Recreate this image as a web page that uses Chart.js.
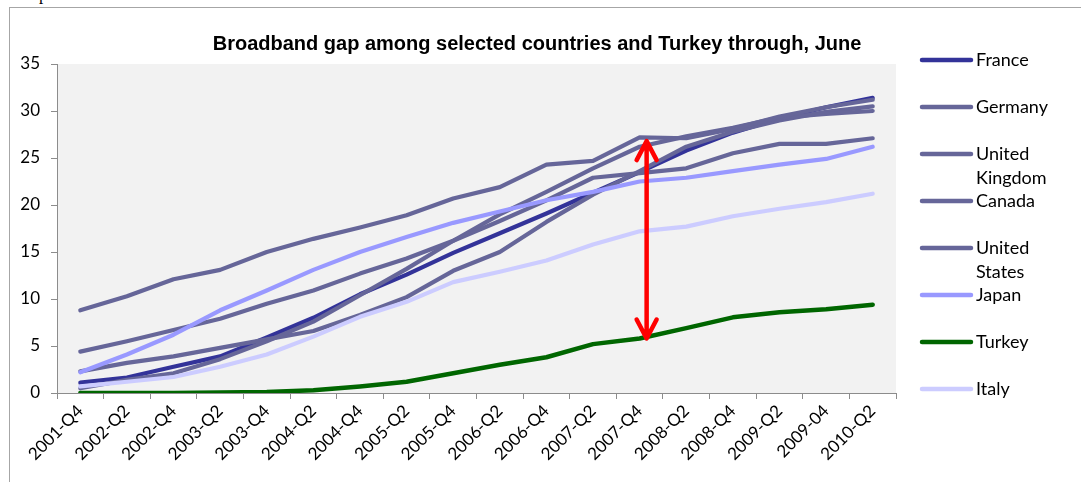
<!DOCTYPE html>
<html>
<head>
<meta charset="utf-8">
<title>Broadband gap</title>
<script src="https://cdn.jsdelivr.net/npm/chart.js@4.4.0/dist/chart.umd.min.js"></script>
<style>
  html, body { margin: 0; padding: 0; background: #fff; overflow: hidden; }
  #wrap { position: absolute; left: 0; top: 0; width: 1081px; height: 482px; }
  #frame { position: absolute; left: 9px; top: 7px; width: 1100px; height: 500px; border: 1px solid #a6a6a6; }
  #cut { position: absolute; left: 39px; top: -15px; font: 17px "Liberation Serif"; color: #000; }
  #gapChart { position: absolute; left: 0; top: 0; }
</style>
</head>
<body>
<div id="wrap">
  <div id="cut">p</div>
  <div id="frame"></div>
  <canvas id="gapChart" width="1081" height="482"></canvas>
</div>
<script>
// half-year ticks, as printed on the original axis
const quarters = [
  "2001-Q4", "2002-Q2", "2002-Q4", "2003-Q2", "2003-Q4", "2004-Q2",
  "2004-Q4", "2005-Q2", "2005-Q4", "2006-Q2", "2006-Q4", "2007-Q2",
  "2007-Q4", "2008-Q2", "2008-Q4", "2009-Q2", "2009-04", "2010-Q2"
];

const france  = [1.1, 1.65, 2.8, 3.9, 5.9, 8.0, 10.5, 12.6, 14.9, 17.0, 19.1, 21.3, 23.5, 25.8, 27.7, 29.2, 30.4, 31.4];
const germany = [2.3, 3.2, 3.9, 4.8, 5.7, 6.6, 8.3, 10.2, 13.0, 15.0, 18.2, 21.1, 23.6, 26.2, 27.8, 29.0, 29.9, 30.5];
const uk      = [0.5, 1.4, 2.1, 3.6, 5.5, 7.6, 10.4, 13.2, 16.2, 19.0, 21.4, 23.9, 26.2, 27.3, 28.2, 29.3, 29.7, 30.0];
const canada  = [8.8, 10.3, 12.1, 13.1, 15.0, 16.4, 17.6, 18.9, 20.7, 21.9, 24.3, 24.7, 27.2, 27.1, 28.1, 29.4, 30.4, 31.2];
const usa     = [4.4, 5.5, 6.7, 7.9, 9.5, 10.9, 12.7, 14.3, 16.2, 18.3, 20.5, 22.9, 23.4, 23.9, 25.5, 26.5, 26.5, 27.1];
const japan   = [2.2, 4.1, 6.2, 8.8, 10.9, 13.1, 15.0, 16.6, 18.1, 19.3, 20.5, 21.4, 22.5, 22.9, 23.6, 24.3, 24.9, 26.2];
const turkey  = [0.0, 0.0, 0.0, 0.05, 0.1, 0.3, 0.7, 1.2, 2.1, 3.0, 3.8, 5.2, 5.8, 6.9, 8.05, 8.6, 8.9, 9.4];
const italy   = [0.7, 1.2, 1.7, 2.8, 4.1, 6.0, 8.1, 9.7, 11.8, 12.9, 14.1, 15.8, 17.2, 17.7, 18.8, 19.6, 20.3, 21.2];

const countries = [["France"], ["Germany"], ["United", "Kingdom"], ["Canada"], ["United", "States"], ["Japan"], ["Turkey"], ["Italy"]];
const seriesList = [france, germany, uk, canada, usa, japan, turkey, italy];

// gap marker: category position and the two ends (in %)
const gapAt = 12.15;
const gapTop = 26.8;
const gapBottom = 5.8;

const lineColors = ["#333399", "#666699", "#666699", "#666699", "#666699", "#9999ff", "#006600", "#ccccff"];
const FONT = "Lato, 'Noto Sans', sans-serif";

// ------------------- Plugins -------------------

const plotBackground = {
  id: "plotBackground",
  beforeDraw(chart) {
    const { ctx, chartArea: a } = chart;
    ctx.save();
    ctx.fillStyle = "#f2f2f2";
    ctx.fillRect(a.left, a.top, a.right - a.left, a.bottom - a.top);
    ctx.restore();
  }
};

const titleAndLegend = {
  id: "titleAndLegend",
  afterDraw(chart) {
    const ctx = chart.ctx;
    ctx.save();
    ctx.fillStyle = "#000";
    ctx.font = "bold 20px 'Liberation Sans', Arial, sans-serif";
    ctx.textAlign = "center";
    ctx.textBaseline = "alphabetic";
    ctx.fillText("Broadband gap among selected countries and Turkey through, June", 537, 50);

    ctx.font = "18px " + FONT;
    ctx.textAlign = "left";
    ctx.textBaseline = "middle";
    chart.data.datasets.forEach((ds, i) => {
      const y = 60 + 47 * i;
      ctx.strokeStyle = ds.borderColor;
      ctx.lineWidth = 4.5;
      ctx.lineCap = "round";
      ctx.beginPath();
      ctx.moveTo(922, y);
      ctx.lineTo(971, y);
      ctx.stroke();
      ctx.fillStyle = "#000";
      countries[i].forEach((part, k) => ctx.fillText(part, 976, y + 24 * k));
    });
    ctx.restore();
  }
};

const gapArrow = {
  id: "gapArrow",
  afterDatasetsDraw(chart) {
    const { ctx, scales } = chart;
    const x = scales.x.getPixelForValue(gapAt);
    const y1 = scales.y.getPixelForValue(gapTop);
    const y2 = scales.y.getPixelForValue(gapBottom);
    ctx.save();
    ctx.strokeStyle = "#ff0000";
    ctx.lineWidth = 4.5;
    ctx.lineCap = "round";
    ctx.lineJoin = "round";
    ctx.beginPath();
    ctx.moveTo(x, y1 + 2);
    ctx.lineTo(x, y2 - 2);
    ctx.moveTo(x - 10, y1 + 19);
    ctx.lineTo(x, y1);
    ctx.lineTo(x + 10, y1 + 19);
    ctx.moveTo(x - 10, y2 - 19);
    ctx.lineTo(x, y2);
    ctx.lineTo(x + 10, y2 - 19);
    ctx.stroke();
    ctx.restore();
  }
};

// ------------------- Chart -------------------

new Chart(document.getElementById("gapChart"), {
  type: "line",
  data: {
    labels: quarters,
    datasets: seriesList.map((values, i) => ({
      label: countries[i].join(" "),
      data: values,
      borderColor: lineColors[i],
      backgroundColor: lineColors[i],
      borderWidth: i === 6 ? 4.5 : 4.2,
      borderCapStyle: "round",
      borderJoinStyle: "round",
      pointRadius: 0,
      tension: 0,
      fill: false,
      order: seriesList.length - i
    }))
  },
  options: {
    responsive: false,
    animation: false,
    events: [],
    layout: { padding: { top: 64, right: 185, left: 0, bottom: 0 } },
    plugins: {
      legend: { display: false },
      title: { display: false },
      tooltip: { enabled: false }
    },
    scales: {
      x: {
        offset: true,
        afterFit: (s) => { s.height = 89; },
        grid: { offset: true, drawOnChartArea: false, drawTicks: true, tickLength: 6, color: "#8c8c8c" },
        border: { display: true, color: "#8c8c8c", width: 1 },
        ticks: {
          autoSkip: false, minRotation: 45, maxRotation: 45, padding: 2,
          color: "#000", font: { family: FONT, size: 17 }
        }
      },
      y: {
        min: 0, max: 35,
        afterFit: (s) => { s.width = 57; },
        grid: { drawOnChartArea: false, drawTicks: true, tickLength: 6, color: "#8c8c8c" },
        border: { display: true, color: "#8c8c8c", width: 1 },
        ticks: { stepSize: 5, padding: 11, color: "#000", font: { family: FONT, size: 17 } }
      }
    }
  },
  plugins: [plotBackground, titleAndLegend, gapArrow]
});
</script>
</body>
</html>
